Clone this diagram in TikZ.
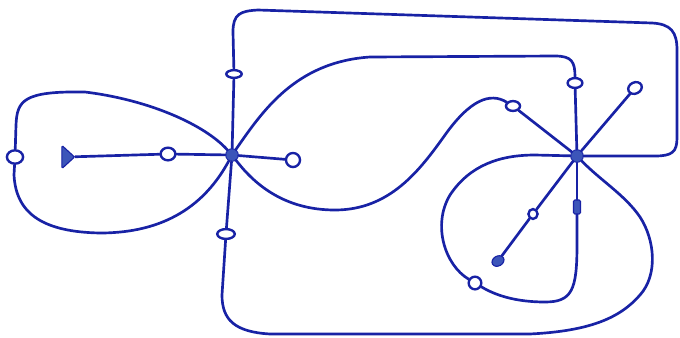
\documentclass[tikz,border=0pt]{standalone}
\usetikzlibrary{shapes.geometric}
\definecolor{ink}{RGB}{24,34,165}
\definecolor{hubblue}{RGB}{60,85,185}

\begin{document}
\begin{tikzpicture}[x=0.025cm, y=-0.025cm,
  edge/.style={draw=ink, line width=1.9pt, line cap=round, line join=round},
  hub/.style={circle, fill=hubblue, draw=ink, line width=0.6pt, inner sep=0pt, minimum size=9pt},
  open/.style={ellipse, draw=ink, fill=white, line width=1.7pt, inner sep=0pt},
  full/.style={fill=hubblue, draw=ink, line width=0.8pt, inner sep=0pt}]
  \useasboundingbox (0,0) rectangle (680,337);
  % draw the two hubs
  \node[hub] (hubL) at (232,155) {};
  \node[hub] (hubR) at (577,156) {};
  % draw open and filled vertices
  \node[open, minimum width=10.5pt, minimum height=9pt] (leftmid) at (168,154) {};
  \node[full, isosceles triangle, isosceles triangle apex angle=85, minimum size=9pt, rounded corners=1pt] (leftend) at (67,157) {};
  \node[open, minimum width=10pt, minimum height=10pt] (rightleaf) at (293,160) {};
  \node[open, minimum width=11pt, minimum height=5.5pt] (upmid) at (234,74) {};
  \node[open, minimum width=12.5pt, minimum height=7pt] (downmid) at (226,234) {};
  \node[open, minimum width=11.5pt, minimum height=9.5pt] (loopmid) at (15,157) {};
  \node[open, minimum width=10.5pt, minimum height=7pt] (arcmid) at (575,83) {};
  \node[open, minimum width=10pt, minimum height=7pt] (wavemid) at (513,106) {};
  \node[open, minimum width=10pt, minimum height=8pt, rotate=25] (diagleaf) at (635,88) {};
  \node[open, minimum width=6.5pt, minimum height=7pt] (lowmid) at (533,214) {};
  \node[full, ellipse, minimum width=9pt, minimum height=7pt, rotate=30] (lowend) at (498,261) {};
  \node[full, rectangle, rounded corners=1pt, minimum width=5pt, minimum height=10pt] (dropend) at (577,207) {};
  \node[open, minimum width=9pt, minimum height=9pt] (ringmid) at (475,283) {};
  % draw edges of left hub
  \draw[edge] (hubL) -- (leftmid) -- (leftend);
  \draw[edge] (hubL) -- (rightleaf);
  \draw[edge] (hubL) -- (upmid);
  \draw[edge] (hubL) -- (downmid);
  \draw[edge] (hubL) .. controls (205,125) and (150,100) .. (85,92)
    .. controls (24,91) and (17,100) .. (16,125) -- (loopmid);
  \draw[edge] (loopmid) -- (14,175) .. controls (16,215) and (45,232) .. (100,233)
    .. controls (165,233) and (205,205) .. (hubL);
  % draw long edges between the hubs
  \draw[edge] (upmid) -- (233,32) .. controls (233,14) and (240,11) .. (258,10)
    -- (652,23) .. controls (671,24) and (677,32) .. (677,50) -- (677,138)
    .. controls (677,152) and (672,156) .. (655,156) -- (hubR);
  \draw[edge] (hubL) .. controls (262,112) and (295,62) .. (370,57) -- (555,56)
    .. controls (572,56) and (575,62) .. (arcmid);
  \draw[edge] (arcmid) -- (hubR);
  \draw[edge] (hubL) .. controls (255,185) and (285,210) .. (335,210)
    .. controls (390,210) and (420,170) .. (445,135)
    .. controls (470,100) and (490,92) .. (wavemid);
  \draw[edge] (wavemid) -- (hubR);
  \draw[edge] (hubR) .. controls (600,180) and (625,195) .. (640,217)
    .. controls (655,240) and (658,275) .. (640,295)
    .. controls (620,318) and (590,331) .. (530,334) -- (270,334)
    .. controls (235,332) and (222,320) .. (222,295) -- (downmid);
  % draw edges of right hub
  \draw[edge] (hubR) -- (diagleaf);
  \draw[edge] (hubR) -- (lowmid) -- (lowend);
  \draw[edge] (hubR) -- (dropend);
  \draw[edge] (dropend) -- (577,245) .. controls (577,290) and (572,302) .. (545,302)
    .. controls (515,302) and (495,295) .. (ringmid);
  \draw[edge] (ringmid) .. controls (445,265) and (432,225) .. (450,195)
    .. controls (470,165) and (500,155) .. (535,155) -- (hubR);
\end{tikzpicture}
\end{document}
